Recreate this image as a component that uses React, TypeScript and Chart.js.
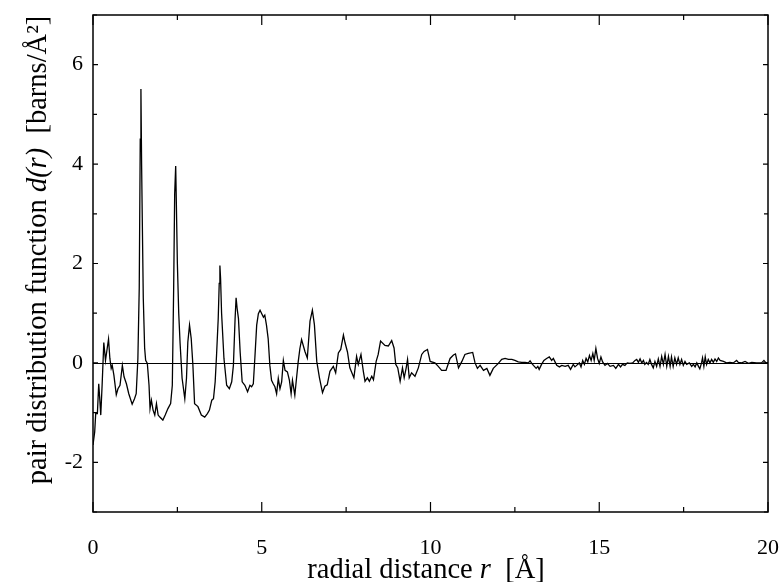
import React, { useEffect, useRef } from "react";
import { Chart, registerables } from "chart.js";

Chart.register(...registerables);

// radial distance r [Å]
const rValues = [
  0, 0.05, 0.08, 0.13, 0.17, 0.2, 0.23, 0.27, 0.32, 0.37, 0.42, 0.46, 0.5, 0.54, 0.57, 0.62, 0.69, 0.74, 0.8, 0.87,
  0.92, 0.99, 1.06, 1.16, 1.23, 1.28, 1.33, 1.37, 1.4, 1.42, 1.44, 1.46, 1.49, 1.53, 1.56, 1.61, 1.66, 1.69, 1.73, 1.78,
  1.83, 1.88, 1.93, 1.98, 2.07, 2.14, 2.22, 2.3, 2.35, 2.39, 2.42, 2.45, 2.47, 2.5, 2.54, 2.58, 2.64, 2.72, 2.77, 2.81,
  2.86, 2.91, 2.96, 3.01, 3.11, 3.21, 3.31, 3.39, 3.45, 3.52, 3.57, 3.62, 3.66, 3.71, 3.74, 3.76, 3.78, 3.81, 3.88, 3.96,
  4.04, 4.11, 4.16, 4.21, 4.24, 4.27, 4.31, 4.36, 4.42, 4.5, 4.58, 4.65, 4.7, 4.75, 4.8, 4.85, 4.9, 4.95, 5.0, 5.05,
  5.09, 5.14, 5.19, 5.24, 5.29, 5.34, 5.39, 5.44, 5.49, 5.54, 5.59, 5.64, 5.69, 5.76, 5.82, 5.87, 5.91, 5.98, 6.03, 6.08,
  6.13, 6.18, 6.28, 6.35, 6.43, 6.5, 6.56, 6.63, 6.71, 6.8, 6.87, 6.94, 7.02, 7.12, 7.19, 7.27, 7.34, 7.42, 7.47, 7.54,
  7.61, 7.73, 7.81, 7.86, 7.94, 8.01, 8.06, 8.13, 8.19, 8.26, 8.31, 8.39, 8.45, 8.52, 8.65, 8.75, 8.85, 8.92, 8.97, 9.03,
  9.1, 9.17, 9.22, 9.28, 9.32, 9.37, 9.44, 9.54, 9.64, 9.74, 9.81, 9.91, 9.99, 10.13, 10.23, 10.33, 10.46, 10.58, 10.68, 10.74,
  10.83, 10.93, 11.02, 11.12, 11.25, 11.32, 11.39, 11.47, 11.57, 11.67, 11.76, 11.86, 12.01, 12.11, 12.21, 12.31, 12.41, 12.5, 12.6, 12.7,
  12.8, 12.9, 12.95, 13.0, 13.05, 13.13, 13.18, 13.22, 13.29, 13.36, 13.44, 13.52, 13.59, 13.64, 13.69, 13.74, 13.82, 13.89, 13.99, 14.08,
  14.15, 14.23, 14.28, 14.33, 14.41, 14.46, 14.51, 14.56, 14.61, 14.66, 14.71, 14.76, 14.81, 14.85, 14.9, 14.95, 15.0, 15.05, 15.1, 15.17,
  15.24, 15.32, 15.42, 15.49, 15.57, 15.63, 15.69, 15.76, 15.83, 15.91, 15.99, 16.06, 16.11, 16.16, 16.21, 16.26, 16.31, 16.35, 16.4, 16.45,
  16.5, 16.55, 16.6, 16.65, 16.7, 16.75, 16.8, 16.85, 16.9, 16.95, 17.0, 17.05, 17.1, 17.14, 17.19, 17.24, 17.29, 17.34, 17.39, 17.44,
  17.49, 17.54, 17.59, 17.67, 17.74, 17.79, 17.84, 17.89, 17.94, 17.98, 18.03, 18.06, 18.1, 18.14, 18.18, 18.23, 18.28, 18.33, 18.38, 18.43,
  18.48, 18.53, 18.58, 18.68, 18.77, 18.87, 18.97, 19.07, 19.12, 19.22, 19.32, 19.42, 19.52, 19.66, 19.81, 19.88, 19.94, 20.0,
];

// pair distribution function d(r) [barns/Å²]
const dValues = [
  -1.65, -1.39, -1.02, -1.02, -0.42, -0.72, -1.05, -0.45, 0.41, 0.05, 0.29, 0.48, 0.09, -0.11, -0.05, -0.25, -0.64, -0.52, -0.45, -0.05,
  -0.28, -0.42, -0.62, -0.83, -0.72, -0.62, 0.09, 1.5, 4.5, 5.51, 4.0, 2.9, 1.3, 0.3, 0.05, -0.01, -0.45, -0.92, -0.75, -0.95,
  -1.05, -0.82, -1.05, -1.09, -1.15, -1.05, -0.92, -0.82, -0.45, 1.5, 3.4, 3.96, 3.2, 2.0, 1.0, 0.4, -0.31, -0.72, -0.31, 0.42,
  0.76, 0.49, -0.05, -0.82, -0.88, -1.05, -1.09, -1.02, -0.95, -0.75, -0.72, -0.38, 0.15, 0.89, 1.6, 1.96, 1.7, 1.0, 0.09, -0.45,
  -0.52, -0.38, -0.05, 0.89, 1.31, 1.1, 0.89, 0.22, -0.38, -0.45, -0.58, -0.45, -0.48, -0.42, 0.15, 0.76, 0.99, 1.06, 0.99, 0.92,
  0.96, 0.76, 0.49, -0.05, -0.35, -0.42, -0.48, -0.62, -0.31, -0.52, -0.38, 0.05, -0.15, -0.18, -0.35, -0.62, -0.35, -0.65, -0.31, 0.02,
  0.29, 0.47, 0.23, 0.1, 0.84, 1.06, 0.77, 0.03, -0.3, -0.6, -0.47, -0.44, -0.17, -0.07, -0.2, 0.2, 0.27, 0.56, 0.4, 0.22,
  -0.1, -0.3, 0.13, -0.03, 0.17, -0.17, -0.37, -0.3, -0.37, -0.27, -0.34, 0.03, 0.17, 0.44, 0.35, 0.34, 0.45, 0.3, -0.03, -0.1,
  -0.37, -0.1, -0.3, -0.1, 0.07, -0.3, -0.2, -0.27, -0.1, 0.17, 0.23, 0.27, 0.03, 0.0, -0.07, -0.15, -0.15, 0.09, 0.16, 0.18,
  -0.1, 0.03, 0.17, 0.19, 0.21, 0.0, -0.11, -0.05, -0.15, -0.11, -0.25, -0.11, -0.01, 0.07, 0.09, 0.07, 0.07, 0.05, 0.02, 0.01,
  0.01, 0.0, 0.04, -0.01, -0.05, -0.11, -0.07, -0.13, -0.03, 0.05, 0.09, 0.12, 0.05, 0.09, 0.02, -0.05, -0.08, -0.05, -0.07, -0.05,
  -0.13, -0.03, -0.08, -0.05, 0.0, -0.08, 0.05, -0.03, 0.09, 0.02, 0.15, 0.05, 0.19, 0.05, 0.29, 0.09, -0.01, 0.12, 0.02, -0.05,
  -0.01, -0.07, -0.05, -0.11, -0.03, -0.08, -0.03, -0.05, 0.0, -0.01, 0.0, 0.05, 0.07, 0.01, 0.08, 0.0, 0.05, -0.03, 0.01, -0.03,
  0.07, -0.03, -0.1, 0.03, -0.07, 0.08, -0.07, 0.13, -0.03, 0.17, -0.07, 0.13, -0.07, 0.12, -0.07, 0.1, -0.03, 0.1, -0.03, 0.07,
  -0.05, 0.03, -0.03, 0.0, -0.07, -0.03, -0.08, 0.0, -0.07, -0.12, 0.0, 0.1, -0.07, 0.12, -0.03, 0.07, 0.0, 0.07, 0.01, 0.08,
  0.03, 0.1, 0.05, 0.03, 0.0, 0.01, 0.0, 0.05, 0.01, 0.0, 0.03, -0.01, 0.01, 0.0, 0.0, 0.05, 0.0, 0.0,
];

const xLabelValues = [0, 5, 10, 15, 20];
const xMinorValues = [2.5, 7.5, 12.5, 17.5];
const yLabelValues = [-2, 0, 2, 4, 6];
const yMinorValues = [-3, -1, 1, 3, 5, 7];

const xTitleParts: [string, boolean][] = [["radial distance ", false], ["r", true], ["  [Å]", false]];
const yTitleParts: [string, boolean][] = [
  ["pair distribution function ", false],
  ["d(r)", true],
  ["  [barns/Å²]", false],
];

const FONT = '"Liberation Serif", "Times New Roman", serif';

function drawParts(ctx: CanvasRenderingContext2D, parts: [string, boolean][], size: number) {
  const fontFor = (it: boolean) => `${it ? "italic " : ""}${size}px ${FONT}`;
  let total = 0;
  const widths = parts.map(([t, it]) => {
    ctx.font = fontFor(it);
    const w = ctx.measureText(t).width;
    total += w;
    return w;
  });
  let x = -total / 2;
  ctx.textAlign = "left";
  ctx.textBaseline = "alphabetic";
  parts.forEach(([t, it], i) => {
    ctx.font = fontFor(it);
    ctx.fillText(t, x, 0);
    x += widths[i];
  });
}

const framePlugin = {
  id: "pdfFrame",
  beforeDatasetsDraw(chart: any) {
    const { ctx, chartArea: a, scales } = chart;
    const y0 = Math.round(scales.y.getPixelForValue(0)) + 0.5;
    ctx.save();
    ctx.strokeStyle = "#000";
    ctx.lineWidth = 1;
    ctx.beginPath();
    ctx.moveTo(a.left, y0);
    ctx.lineTo(a.right, y0);
    ctx.stroke();
    ctx.restore();
  },
  afterDatasetsDraw(chart: any) {
    const { ctx, chartArea: a, scales } = chart;
    const xs = scales.x;
    const ys = scales.y;
    ctx.save();
    ctx.strokeStyle = "#000";
    ctx.lineWidth = 1.5;
    ctx.strokeRect(a.left, a.top, a.right - a.left, a.bottom - a.top);
    ctx.lineWidth = 1.2;
    ctx.beginPath();
    const xTick = (v: number, len: number) => {
      const px = xs.getPixelForValue(v);
      ctx.moveTo(px, a.bottom);
      ctx.lineTo(px, a.bottom - len);
      ctx.moveTo(px, a.top);
      ctx.lineTo(px, a.top + len);
    };
    const yTick = (v: number, len: number) => {
      const py = ys.getPixelForValue(v);
      ctx.moveTo(a.left, py);
      ctx.lineTo(a.left + len, py);
      ctx.moveTo(a.right, py);
      ctx.lineTo(a.right - len, py);
    };
    xLabelValues.forEach((v) => xTick(v, 10));
    xMinorValues.forEach((v) => xTick(v, 5));
    yLabelValues.forEach((v) => yTick(v, 5));
    yMinorValues.forEach((v) => yTick(v, 4));
    ctx.stroke();

    ctx.fillStyle = "#000";
    // x title (baseline)
    ctx.save();
    ctx.translate(426, 578);
    drawParts(ctx, xTitleParts, 28.5);
    ctx.restore();
    // y title (baseline on the right side after rotation)
    ctx.save();
    ctx.translate(46, 250);
    ctx.rotate(-Math.PI / 2);
    drawParts(ctx, yTitleParts, 28.5);
    ctx.restore();
    ctx.restore();
  },
};

export default function App() {
  const canvasRef = useRef<HTMLCanvasElement | null>(null);

  useEffect(() => {
    const canvas = canvasRef.current;
    if (!canvas) return;
    const chart = new Chart(canvas, {
      type: "line",
      data: {
        datasets: [
          {
            data: rValues.map((r, i) => ({ x: r, y: dValues[i] })),
            borderColor: "#000",
            borderWidth: 1.3,
            pointRadius: 0,
            fill: false,
            tension: 0,
          },
        ],
      },
      options: {
        animation: false,
        responsive: false,
        devicePixelRatio: 1,
        layout: { padding: { left: 0, top: 15, right: 15, bottom: 0 } },
        plugins: { legend: { display: false }, tooltip: { enabled: false } },
        scales: {
          x: {
            type: "linear",
            min: 0,
            max: 20,
            grid: { display: false, drawTicks: false },
            border: { display: false },
            ticks: {
              color: "#000",
              font: { family: FONT, size: 22 },
              padding: 23,
              maxRotation: 0,
              autoSkip: false,
            },
            afterBuildTicks: (s: any) => {
              s.ticks = xLabelValues.map((v) => ({ value: v }));
            },
            afterFit: (s: any) => {
              s.height = 70;
              s.paddingLeft = 0;
              s.paddingRight = 0;
            },
          },
          y: {
            type: "linear",
            min: -3,
            max: 7,
            grid: { display: false, drawTicks: false },
            border: { display: false },
            ticks: {
              color: "#000",
              font: { family: FONT, size: 22 },
              padding: 10,
              autoSkip: false,
            },
            afterBuildTicks: (s: any) => {
              s.ticks = yLabelValues.map((v) => ({ value: v }));
            },
            afterFit: (s: any) => {
              s.width = 93;
              s.paddingTop = 0;
              s.paddingBottom = 0;
            },
          },
        },
      },
      plugins: [framePlugin],
    } as any);
    return () => chart.destroy();
  }, []);

  return (
    <div style={{ position: "absolute", left: 0, top: 0, width: 783, height: 582, background: "#fff" }}>
      <canvas ref={canvasRef} width={783} height={582} />
    </div>
  );
}
